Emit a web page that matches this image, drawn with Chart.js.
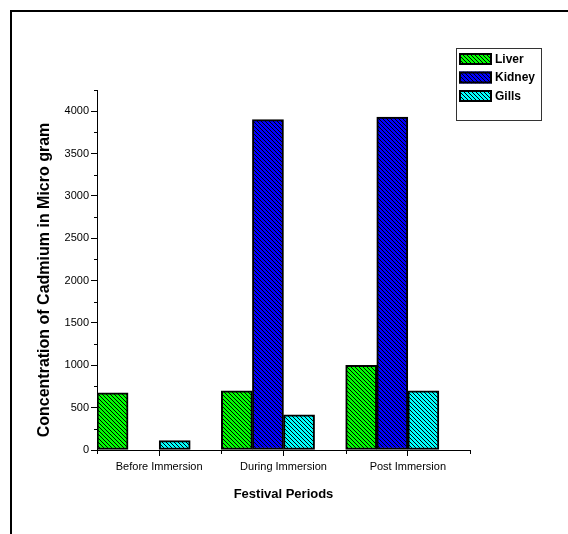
<!DOCTYPE html>
<html lang="en">
<head>
  <meta charset="UTF-8" />
  <title>Cadmium concentration</title>
  <script src="https://cdn.jsdelivr.net/npm/chart.js"></script>
  <style>
    body {
      margin: 0;
      padding: 0;
      background: #ffffff;
      overflow: hidden;
      width: 568px;
      height: 534px;
      position: relative;
    }
    #frame {
      position: absolute;
      left: 10px;
      top: 10px;
      width: 600px;
      height: 600px;
      border-top: 2px solid #000;
      border-left: 2px solid #000;
    }
    #cadChart {
      position: absolute;
      left: 0;
      top: 0;
    }
  </style>
</head>
<body>
  <div id="frame"></div>
  <canvas id="cadChart" width="568" height="534"></canvas>

  <script>
    const categories = ["Before Immersion", "During Immersion", "Post Immersion"];
    const liver = [675, 700, 1000];
    const kidney = [null, 3900, 3930];
    const gills = [110, 415, 700];
    const seriesNames = ["Liver", "Kidney", "Gills"];
    const seriesColors = ["#00ff00", "#0000ff", "#00ffff"];
    const yMax = 4250;
    const yStep = 250;
    const yLabelStep = 500;
    const yTitle = "Concentration of Cadmium in Micro gram";

    const FONT = "'Liberation Sans', Arial, sans-serif";

    // crisp 1px diagonal hatch on a coloured fill
    function hatch(color) {
      const c = document.createElement("canvas");
      c.width = 4;
      c.height = 4;
      const g = c.getContext("2d");
      g.fillStyle = color;
      g.fillRect(0, 0, 4, 4);
      g.fillStyle = "#000";
      for (let y = 0; y < 4; y++) {
        for (let x = 0; x < 4; x++) {
          if ((x - y + 4) % 4 === 0) g.fillRect(x, y, 1, 1);
        }
      }
      return g.createPattern(c, "repeat");
    }

    const patterns = seriesColors.map(hatch);
    const values = [liver, kidney, gills];

    const datasets = seriesNames.map((name, i) => ({
      label: name,
      data: values[i],
      backgroundColor: patterns[i],
      borderColor: "#000",
      borderWidth: 2,
      borderSkipped: false
    }));
    // empty slot so each group sits in the left part of its category
    datasets.push({ label: "", data: categories.map(() => null) });

    // extra ticks, y title and boxed legend
    const extras = {
      id: "extras",
      afterDraw(chart) {
        const ctx = chart.ctx;
        const xs = chart.scales.x;
        const ys = chart.scales.y;
        const area = chart.chartArea;
        ctx.save();
        ctx.strokeStyle = "#000";
        ctx.lineWidth = 1;

        // minor ticks on category boundaries
        const w = xs.getPixelForValue(1) - xs.getPixelForValue(0);
        ctx.beginPath();
        for (let i = 0; i <= categories.length; i++) {
          const px = Math.round(xs.getPixelForValue(0) - w / 2 + i * w) + 0.5;
          ctx.moveTo(px, area.bottom);
          ctx.lineTo(px, area.bottom + 4);
        }
        // minor ticks on y
        ys.ticks.forEach(t => {
          if (t.value % yLabelStep !== 0) {
            const py = Math.round(ys.getPixelForValue(t.value)) + 0.5;
            ctx.moveTo(area.left - 3, py);
            ctx.lineTo(area.left, py);
          }
        });
        ctx.stroke();

        // y axis title
        ctx.save();
        ctx.translate(45, 280);
        ctx.rotate(-Math.PI / 2);
        ctx.font = "bold 16px " + FONT;
        ctx.textAlign = "center";
        ctx.textBaseline = "middle";
        ctx.fillStyle = "#000";
        ctx.fillText(yTitle, 0, 0);
        ctx.restore();

        // legend
        const lx = 456.5, ly = 48.5, lw = 85, lh = 72;
        ctx.strokeStyle = "#333";
        ctx.lineWidth = 1;
        ctx.strokeRect(lx, ly, lw, lh);
        ctx.font = "bold 12px " + FONT;
        ctx.textBaseline = "middle";
        ctx.textAlign = "left";
        seriesNames.forEach((name, i) => {
          const top = 53 + i * 18.5;
          ctx.fillStyle = patterns[i];
          ctx.fillRect(459, top, 33, 12);
          ctx.strokeStyle = "#000";
          ctx.lineWidth = 2;
          ctx.strokeRect(460, top + 1, 31, 10);
          ctx.fillStyle = "#000";
          ctx.fillText(name, 495, top + 6.5);
        });
        ctx.restore();
      }
    };

    new Chart(document.getElementById("cadChart"), {
      type: "bar",
      data: { labels: categories, datasets: datasets },
      plugins: [extras],
      options: {
        responsive: false,
        animation: false,
        layout: { padding: { top: 90, right: 98, bottom: 0, left: 0 } },
        datasets: { bar: { categoryPercentage: 1, barPercentage: 1 } },
        plugins: {
          legend: { display: false },
          tooltip: { enabled: false }
        },
        scales: {
          x: {
            grid: {
              display: true,
              drawOnChartArea: false,
              offset: false,
              tickLength: 6,
              tickColor: "#000"
            },
            border: { display: true, color: "#000", width: 1 },
            ticks: { color: "#000", padding: 4, font: { family: FONT, size: 11 } },
            title: {
              display: true,
              text: "Festival Periods",
              color: "#000",
              font: { family: FONT, size: 13, weight: "bold" },
              padding: { top: 0, bottom: 32 }
            },
            afterFit(scale) { scale.height = 84; }
          },
          y: {
            min: 0,
            max: yMax,
            grid: {
              display: true,
              drawOnChartArea: false,
              tickLength: 6,
              tickColor: ctx => (ctx.tick && ctx.tick.value % yLabelStep === 0 ? "#000" : "rgba(0,0,0,0)")
            },
            border: { display: true, color: "#000", width: 1 },
            ticks: {
              stepSize: yStep,
              color: "#000",
              padding: 2,
              font: { family: FONT, size: 11 },
              callback: v => (v % yLabelStep === 0 ? String(v) : "")
            },
            title: { display: false },
            afterFit(scale) { scale.width = 97; }
          }
        }
      }
    });
  </script>
</body>
</html>
